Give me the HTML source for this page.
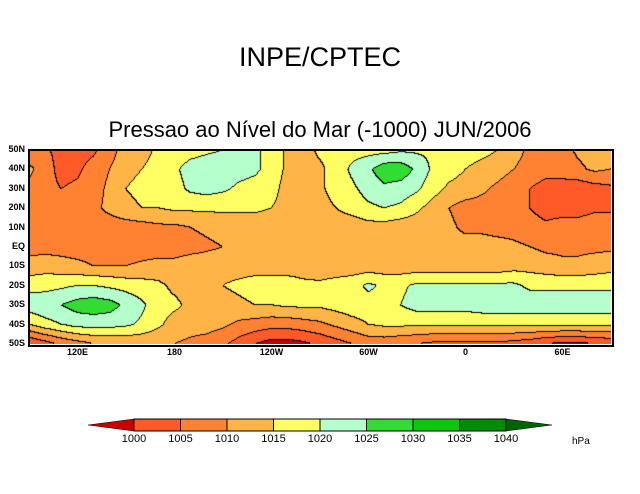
<!DOCTYPE html>
<html><head><meta charset="utf-8"><style>
body{margin:0;background:#fff;width:640px;height:494px;overflow:hidden;position:relative;font-family:"Liberation Sans",sans-serif}
.t{position:absolute;white-space:nowrap}
.lab{position:absolute;font-size:9px;font-weight:bold;color:#000}
</style></head><body>
<div class="t" style="left:0;width:640px;text-align:center;top:42px;font-size:27px;">INPE/CPTEC</div>
<div class="t" style="left:0;width:640px;text-align:center;top:117px;font-size:22px;">Pressao ao Nível do Mar (-1000) JUN/2006</div>
<canvas id="map" width="582" height="194" style="position:absolute;left:29px;top:150px"></canvas>
<div style="position:absolute;left:28px;top:149px;width:582px;height:194px;border:2px solid #000"></div>
<div id="axes"></div>
<svg id="cbar" width="640" height="494" style="position:absolute;left:0;top:0"></svg>
<script>
const levels=[1000,1005,1010,1015,1020,1025,1030,1035,1040];
const colors=["#c80000","#ff5a28","#ff8232","#ffb446","#ffff64","#b4ffcc","#32dc32","#0ac80a","#008c00","#006400"];
const latLabels=["50N","40N","30N","20N","10N","EQ","10S","20S","30S","40S","50S"];
const lonLabels=["120E","180","120W","60W","0","60E"];
const lonLabelDeg=[120,180,240,300,360,420];
const r50N=[1007,1006,1003,1003,1004,1008,1012,1013,1016,1017,1018,1019,1020,1021,1021,1018,1014,1013,1016,1017,1018,1018,1018,1019,1019,1019,1020,1018,1017,1015,1012,1009,1008,1008,1011,1012,1011];
const r40N=[1011,1008,1003,1004,1007,1010,1013,1015,1017,1019,1022,1023,1023,1022,1021,1018,1014,1013,1014,1017,1021,1024,1028,1028,1024,1019,1017,1015,1013,1012,1010,1008,1007,1007,1009,1011,1010];
const r30N=[1009,1007,1005,1006,1008,1011,1015,1017,1018,1018,1021,1022,1021,1019,1018,1017,1013,1013,1014,1017,1019,1022,1024,1023,1021,1017,1014,1013,1011,1009,1007,1005,1003,1003,1002,1003,1004];
const r20N=[1006,1007,1007,1008,1009,1011,1013,1015,1015,1016,1016,1016,1016,1016,1016,1015,1013,1012,1013,1015,1017,1019,1020,1019,1016,1013,1010,1008,1008,1008,1007,1005,1003,1003,1003,1004,1004];
const r10N=[1008,1008,1008,1008,1008,1008,1008,1008,1009,1009,1010,1011,1012,1012,1012,1012,1012,1012,1012,1012,1012,1013,1013,1012,1012,1011,1011,1009,1009,1008,1008,1007,1006,1007,1007,1008,1008];
const rEQ=[1008,1008,1008,1008,1008,1008,1007,1007,1007,1007,1008,1009,1010,1011,1012,1012,1012,1012,1012,1012,1012,1012,1012,1012,1012,1012,1012,1012,1012,1012,1011,1010,1009,1009,1009,1009,1009];
const r10S=[1012,1013,1012,1011,1010,1010,1010,1011,1012,1012,1013,1013,1013,1013,1013,1013,1013,1013,1012,1012,1012,1012,1012,1012,1012,1012,1012,1012,1012,1012,1013,1013,1012,1011,1011,1012,1013];
const r20S=[1018,1018,1019,1020,1020,1019,1018,1017,1016,1014,1013,1013,1015,1016,1017,1017,1017,1016,1016,1017,1018,1021,1019,1019,1021,1021,1021,1021,1021,1021,1021,1019,1019,1019,1019,1019,1019];
const r30S=[1023,1024,1025,1027,1028,1027,1024,1021,1017,1016,1014,1013,1013,1014,1015,1015,1016,1016,1016,1017,1018,1018,1018,1020,1022,1022,1022,1022,1023,1023,1023,1023,1023,1023,1023,1023,1023];
const r40S=[1015,1018,1020,1022,1022,1022,1021,1019,1016,1013,1012,1012,1011,1009,1008,1007,1007,1008,1009,1011,1013,1015,1016,1016,1016,1016,1016,1016,1016,1016,1016,1016,1016,1016,1016,1016,1016];
const r50S=[1000,1003,1006,1008,1010,1010,1011,1011,1011,1010,1009,1008,1006,1003,1000,998,998,999,1001,1003,1005,1007,1007,1006,1005,1004,1004,1004,1004,1004,1003,1002,1000,999,999,1000,1001];
const grid=[r50N,r40N,r30N,r20N,r10N,rEQ,r10S,r20S,r30S,r40S,r50S];

const X0=29,W=582,Y0=150,H=194,LON0=90;
const xOf=lon=>X0+(lon-LON0)/360*W;
const yOf=lat=>Y0+(50-lat)/100*H;
function band(v){let i=0;while(i<levels.length&&v>=levels[i])i++;return i;}
function val(px,py){
  const gx=px/W*36, gy=py/H*10;
  const i=Math.min(35,Math.floor(gx)), j=Math.min(9,Math.floor(gy));
  const fx=gx-i, fy=gy-j;
  const a=grid[j][i],b=grid[j][i+1],c=grid[j+1][i],d=grid[j+1][i+1];
  return a*(1-fx)*(1-fy)+b*fx*(1-fy)+c*(1-fx)*fy+d*fx*fy;
}
const cv=document.getElementById('map'),ctx=cv.getContext('2d');
const img=ctx.createImageData(W,H);
const bands=[];
for(let y=0;y<H;y++){bands.push([]);for(let x=0;x<W;x++)bands[y].push(band(val(x+0.5,y+0.5)));}
function hex(h){return [parseInt(h.substr(1,2),16),parseInt(h.substr(3,2),16),parseInt(h.substr(5,2),16)];}
const rgb=colors.map(hex);
for(let y=0;y<H;y++)for(let x=0;x<W;x++){
  const b=bands[y][x];
  let edge=(x+1<W&&bands[y][x+1]!==b)||(y+1<H&&bands[y+1][x]!==b);
  const c=edge?[0,0,0]:rgb[b];
  const k=(y*W+x)*4;img.data[k]=c[0];img.data[k+1]=c[1];img.data[k+2]=c[2];img.data[k+3]=255;
}
ctx.putImageData(img,0,0);

const ax=document.getElementById('axes');
latLabels.forEach((t,i)=>{
  const lat=50-i*10;
  const d=document.createElement('div');
  
  
  d.className='lab';d.textContent=t;
  d.style.right=(640-25)+'px';d.style.top=(yOf(lat)-6)+'px';
  ax.appendChild(d);
});
lonLabels.forEach((t,i)=>{
  const d=document.createElement('div');
  
  
  d.className='lab';d.textContent=t;
  d.style.left=(xOf(lonLabelDeg[i])-20)+'px';d.style.width='40px';d.style.textAlign='center';d.style.top='347px';
  ax.appendChild(d);
});

const svg=document.getElementById('cbar');const NS='http://www.w3.org/2000/svg';
const bx0=134,bw=46.5,by=419,bh=12;
function el(n,a){const e=document.createElementNS(NS,n);for(const k in a)e.setAttribute(k,a[k]);svg.appendChild(e);return e;}
let t=el('polygon',{points:`${bx0},${by} ${bx0},${by+bh} 88,${by+6}`,fill:colors[0],stroke:'#000','stroke-width':0.5});


const xe=bx0+bw*(levels.length-1);
t=el('polygon',{points:`${xe},${by} ${xe},${by+bh} 552,${by+6}`,fill:colors[colors.length-1],stroke:'#000','stroke-width':0.5});


for(let i=0;i<levels.length-1;i++){
  const r=el('rect',{x:bx0+i*bw,y:by,width:bw,height:bh,fill:colors[i+1],stroke:'#000','stroke-width':1});
  
  
}
levels.forEach((l,i)=>{
  const tx=el('text',{x:bx0+i*bw,y:442,'text-anchor':'middle','font-size':11,'font-family':'Liberation Sans, sans-serif'});
  tx.textContent=l;
  
  
});
const u=el('text',{x:572,y:444,'font-size':10,'font-family':'Liberation Sans, sans-serif'});u.textContent='hPa';


</script>
</body></html>
